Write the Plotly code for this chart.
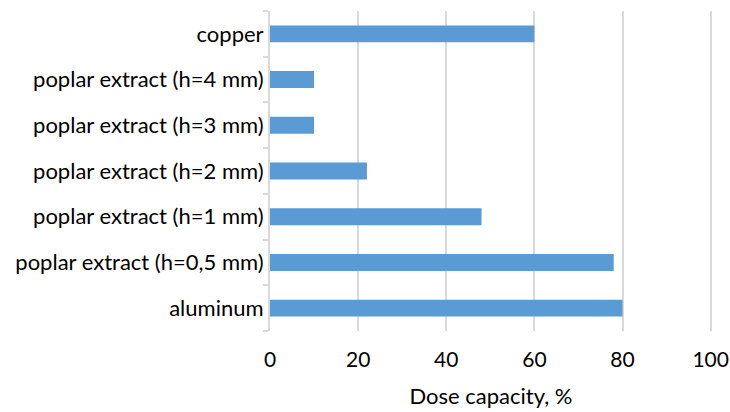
import plotly.graph_objects as go

# Materials listed bottom to top
materials = [
    "aluminum",
    "poplar extract (h=0,5 mm)",
    "poplar extract (h=1 mm)",
    "poplar extract (h=2 mm)",
    "poplar extract (h=3 mm)",
    "poplar extract (h=4 mm)",
    "copper",
]
dose_capacity = [80, 78, 48, 22, 10, 10, 60]
x_ticks = [0, 20, 40, 60, 80, 100]

FONT = "Lato"
SIZE = 22

fig = go.Figure(
    go.Bar(
        x=dose_capacity,
        y=materials,
        orientation="h",
        marker=dict(color="#5b9bd5", line=dict(width=0)),
        width=0.37,
    )
)

fig.update_layout(
    width=730,
    height=412,
    margin=dict(l=270, r=18, t=11, b=81, autoexpand=False),
    paper_bgcolor="white",
    plot_bgcolor="white",
    showlegend=False,
    font=dict(family=FONT, size=SIZE, color="#000000"),
)

fig.update_xaxes(
    range=[0, 100.3],
    tickvals=x_ticks,
    ticktext=[str(v) for v in x_ticks],
    showgrid=True,
    gridcolor="#d9d9d9",
    gridwidth=2,
    zeroline=False,
    showline=False,
    ticks="outside",
    ticklen=10,
    tickcolor="rgba(0,0,0,0)",
    automargin=False,
    tickfont=dict(family=FONT, size=21),
    title=dict(text="Dose capacity, %", font=dict(family=FONT, size=SIZE), standoff=18),
)

fig.update_yaxes(
    type="category",
    categoryorder="array",
    categoryarray=materials,
    showline=True,
    linecolor="#d9d9d9",
    linewidth=2,
    ticks="outside",
    tickson="boundaries",
    ticklen=5,
    tickcolor="#d9d9d9",
    tickwidth=2,
    showgrid=False,
    automargin=False,
    tickfont=dict(family=FONT, size=SIZE),
)

fig.write_html("out.html")
